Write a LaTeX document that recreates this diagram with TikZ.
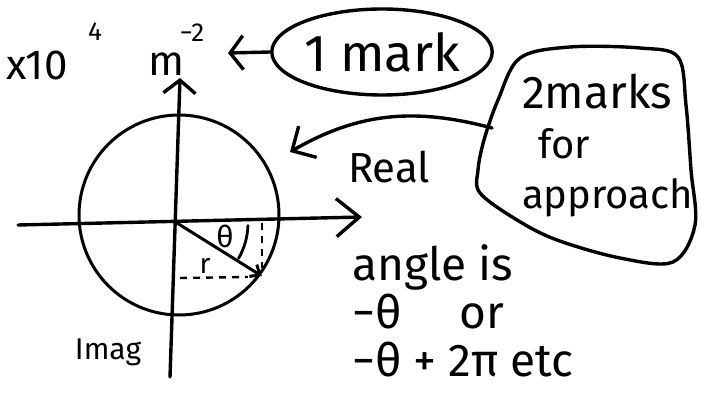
\documentclass[tikz,border=0pt]{standalone}
\usepackage{fontspec}
\setmainfont{Fira Sans}
\usetikzlibrary{shapes.geometric, arrows.meta, positioning, calc}
\newcommand{\handsize}[1]{\fontsize{#1}{#1}\selectfont}
\tikzset{
  pen/.style={line width=3.4pt, line cap=round, line join=round, draw=black},
  arrow/.style={pen, -{Straight Barb[length=13pt, width=34pt]}},
  dashline/.style={line width=2.4pt, dash pattern=on 7pt off 6pt},
  texto/.style={inner sep=0pt, align=left, font=\fontsize{46}{48}\selectfont}
}
\begin{document}
\begin{tikzpicture}[x=1pt, y=-1pt]
  \useasboundingbox (0,0) rectangle (701,395);
  \coordinate (o) at (177,223);
  \coordinate (xl) at (18,225);
  \coordinate (xr) at (362,217);
  \coordinate (yb) at (170,377);
  \coordinate (yt) at (180,78);
  \coordinate (p) at ($(o)+(32:100)$);
  \node (circ) [circle, pen, line width=3pt, minimum size=200pt, inner sep=0pt] at (179,215) {};
  \draw [pen, -{Straight Barb[length=23pt, width=38pt]}] (xl) -- (xr);
  \draw [pen, -{Straight Barb[length=13pt, width=32pt]}] (yb) -- (yt);
  \draw [pen, line width=3pt, -{Straight Barb[length=8pt, width=14pt]}] (o) -- (p);
  \draw [dashline] (p |- o) -- ($(p)+(0,-8)$);
  \draw [dashline] ($(o |- p)+(3,2)$) -- ($(p)+(-14,1)$);
  \draw [pen, line width=2.8pt] ($(o)+(2:71)$) arc[start angle=2, end angle=30, radius=71];
  \node (theta) [font=\handsize{30}] at (225,236) {θ};
  \node (r) [font=\handsize{28}] at (205,266) {r};
  \node (imag) [font=\handsize{30}] at (108,352) {Imag};
  \node (real) [font=\handsize{42}] at (389,167) {Real};
  \node (xten) [inner sep=0pt, anchor=base west, font=\handsize{42}] at (6,80) {x10};
  \node (four) [font=\handsize{26}] at (95,32) {4};
  \node (unitm) [inner sep=0pt, anchor=base, font=\handsize{42}] at (166,76) {m};
  \node (minus) [font=\handsize{26}] at (192,33) {−2};
  \node (one) [ellipse, pen, minimum width=200pt, minimum height=86pt, inner sep=0pt, font=\handsize{52}] at (382,52) {1 mark};
  \coordinate (mtip) at (228,53);
  \draw [arrow] (one.west) -- (mtip);
  \draw [pen] plot[smooth cycle, tension=0.55] coordinates {(520,58) (570,47) (640,48) (678,57) (686,105) (691,170) (695,225) (673,262) (620,258) (557,240) (517,220) (480,193) (478,170) (484,140) (498,100)};
  \node (twomarks) [texto, font=\fontsize{40}{50}\selectfont, anchor=north west] at (522,74) {{\fontsize{46}{50}\selectfont 2marks}\\ \hspace*{16pt}for\\ approach};
  \coordinate (blobw) at (492,128);
  \coordinate (ctip) at (290,152);
  \draw [pen, -{Straight Barb[length=18pt, width=36pt]}] (blobw) to[out=165, in=30] (ctip);
  \node (angle) [texto, anchor=north west] at (352,244) {angle is\\ −θ \quad or\\ −θ + 2π etc};
\end{tikzpicture}
\end{document}
